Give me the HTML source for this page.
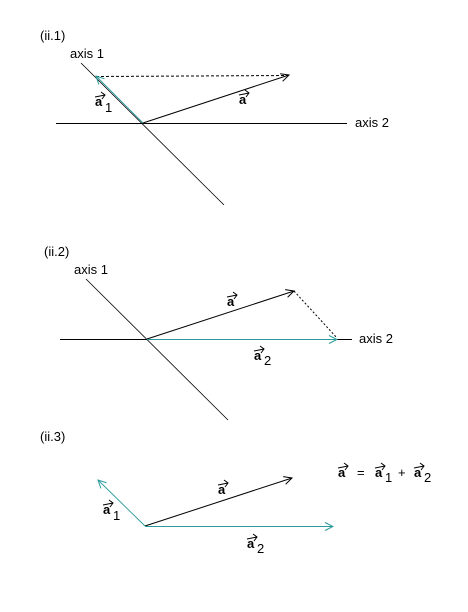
<!DOCTYPE html>
<html><head><meta charset="utf-8"><style>
html,body{margin:0;padding:0;background:#fff;width:468px;height:612px;overflow:hidden}
svg text{font-family:"Liberation Sans",sans-serif;font-size:13px;fill:#000}
.v{font-weight:bold;font-size:13px}
.sub{font-size:13px}
.va{fill:none;stroke:#000;stroke-width:1}
</style></head><body>
<svg width="468" height="612" viewBox="0 0 468 612">
<defs>
<marker id="hk" markerWidth="10" markerHeight="10" refX="9" refY="5" orient="auto" markerUnits="userSpaceOnUse"><path d="M1,1 L9,5 L1,9" fill="none" stroke="#000" stroke-width="1"/></marker>
<marker id="ht" markerWidth="10" markerHeight="10" refX="9" refY="5" orient="auto" markerUnits="userSpaceOnUse"><path d="M1,1 L9,5 L1,9" fill="none" stroke="#2a9a9a" stroke-width="1"/></marker>
<path id="va" d="M0,0 L10,-2 M6,-5 L10,-2 L7,2" class="va"/>
</defs>

<g>
<text x="40" y="40">(ii.1)</text>
<text x="70" y="58">axis 1</text>
<text x="355" y="127">axis 2</text>
<line x1="56" y1="123.5" x2="347" y2="123.5" stroke="#000"/>
<line x1="81" y1="63" x2="224" y2="205" stroke="#000" stroke-width="0.8"/>
<line x1="96" y1="76.5" x2="288" y2="75.5" stroke="#000" stroke-dasharray="3,2"/>
<line x1="143" y1="123" x2="289" y2="75" stroke="#000" marker-end="url(#hk)"/>
<line x1="143" y1="123" x2="96" y2="76" stroke="#2a9a9a" stroke-width="0.9" marker-end="url(#ht)"/>
<g><use href="#va" x="95" y="97"/><text class="v" x="95" y="106">a</text><text class="sub" x="105" y="112">1</text></g>
<g><use href="#va" x="239" y="95"/><text class="v" x="239" y="104">a</text></g>
</g>

<g>
<text x="44" y="256">(ii.2)</text>
<text x="74" y="274">axis 1</text>
<text x="359" y="343">axis 2</text>
<line x1="60" y1="339.5" x2="352" y2="339.5" stroke="#000"/>
<line x1="86" y1="279" x2="228" y2="420" stroke="#000" stroke-width="0.8"/>
<line x1="294" y1="291" x2="337" y2="338" stroke="#000" stroke-dasharray="2,2"/>
<line x1="147" y1="339" x2="294" y2="291" stroke="#000" marker-end="url(#hk)"/>
<line x1="147" y1="339.5" x2="337" y2="339.5" stroke="#2a9a9a" marker-end="url(#ht)"/>
<g><use href="#va" x="227" y="297"/><text class="v" x="227" y="306">a</text></g>
<g><use href="#va" x="254" y="351"/><text class="v" x="254" y="360">a</text><text class="sub" x="264" y="365">2</text></g>
</g>

<g>
<text x="40" y="441">(ii.3)</text>
<line x1="145" y1="526" x2="292" y2="478" stroke="#000" marker-end="url(#hk)"/>
<line x1="145" y1="526" x2="98" y2="480" stroke="#2a9a9a" stroke-width="0.9" marker-end="url(#ht)"/>
<line x1="145" y1="526.5" x2="333" y2="526.5" stroke="#2a9a9a" marker-end="url(#ht)"/>
<g><use href="#va" x="103" y="505"/><text class="v" x="103" y="514">a</text><text class="sub" x="113" y="520">1</text></g>
<g><use href="#va" x="218" y="485"/><text class="v" x="218" y="494">a</text></g>
<g><use href="#va" x="247" y="539"/><text class="v" x="247" y="548">a</text><text class="sub" x="257" y="553">2</text></g>
<g>
<use href="#va" x="338" y="468"/><text class="v" x="338" y="477">a</text>
<text x="357" y="477">=</text>
<use href="#va" x="375" y="468"/><text class="v" x="375" y="477">a</text><text class="sub" x="385" y="482">1</text>
<text x="398" y="477">+</text>
<use href="#va" x="414" y="468"/><text class="v" x="414" y="477">a</text><text class="sub" x="424" y="482">2</text>
</g>
</g>
</svg>
</body></html>
